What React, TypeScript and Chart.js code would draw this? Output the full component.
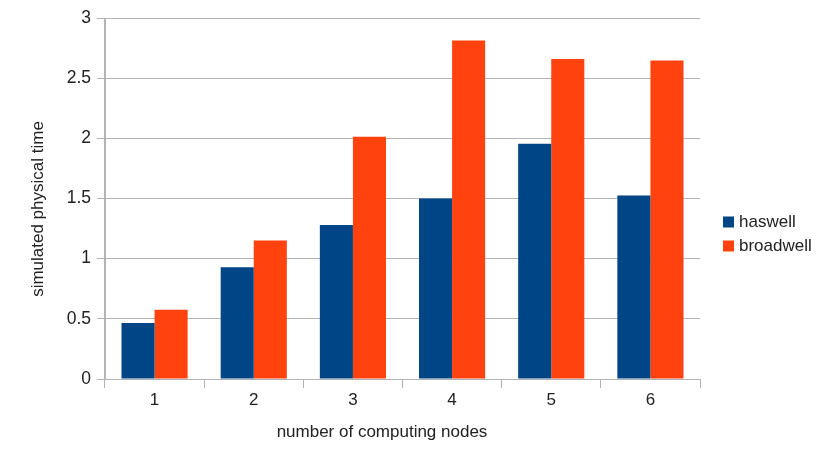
import React, { useEffect, useRef } from "react";
import { Chart, registerables } from "chart.js";

Chart.register(...registerables);

const categories = ["1", "2", "3", "4", "5", "6"];
const haswell = [0.465, 0.928, 1.28, 1.499, 1.956, 1.524];
const broadwell = [0.576, 1.152, 2.014, 2.812, 2.66, 2.646];
const yTicks = [0, 0.5, 1, 1.5, 2, 2.5, 3];
const seriesNames = ["haswell", "broadwell"];
const seriesColors = ["#004586", "#ff420e"];
const xTitle = "number of computing nodes";
const yTitle = "simulated physical time";

const FONT = "'Liberation Sans', Arial, sans-serif";
const GRID = "#b3b3b3";
const TEXT = "#222222";

const overlay = {
  id: "overlay",
  afterDraw(chart: any) {
    const ctx = chart.ctx;
    ctx.save();
    ctx.fillStyle = TEXT;
    ctx.font = `17px ${FONT}`;
    ctx.textAlign = "center";
    ctx.textBaseline = "middle";
    ctx.fillText(xTitle, 382, 432);
    ctx.save();
    ctx.translate(38, 209);
    ctx.rotate(-Math.PI / 2);
    ctx.fillText(yTitle, 0, 0);
    ctx.restore();
    // legend
    ctx.textAlign = "left";
    seriesNames.forEach((name, i) => {
      const cy = 222 + i * 24;
      ctx.fillStyle = seriesColors[i];
      ctx.fillRect(723, cy - 5.5, 11, 11);
      ctx.fillStyle = TEXT;
      ctx.fillText(name, 739, cy);
    });
    ctx.restore();
  },
};

export default function App() {
  const ref = useRef<HTMLCanvasElement>(null);
  useEffect(() => {
    document.body.style.margin = "0";
    const chart = new Chart(ref.current!, {
      type: "bar",
      data: {
        labels: categories,
        datasets: [
          { label: seriesNames[0], data: haswell, backgroundColor: seriesColors[0], categoryPercentage: 0.667, barPercentage: 1 },
          { label: seriesNames[1], data: broadwell, backgroundColor: seriesColors[1], categoryPercentage: 0.667, barPercentage: 1 },
        ],
      },
      options: {
        responsive: false,
        animation: false,
        layout: { padding: { left: 0, right: 130, top: 18, bottom: 0 } },
        plugins: { legend: { display: false }, tooltip: { enabled: false } },
        scales: {
          x: {
            grid: {
              offset: true,
              drawOnChartArea: true,
              color: (c: any) => (c.index === 0 || c.index === categories.length ? GRID : "transparent"),
              tickColor: GRID,
              tickLength: 9,
              lineWidth: 1,
            },
            border: { display: true, color: GRID },
            ticks: { color: TEXT, font: { family: FONT, size: 17 }, padding: 2 },
            afterFit: (s: any) => { s.height = 88; },
          },
          y: {
            min: 0,
            max: 3,
            afterBuildTicks: (s: any) => { s.ticks = yTicks.map((v) => ({ value: v })); },
            grid: { color: GRID, tickColor: GRID, tickLength: 8, lineWidth: 1 },
            border: { display: true, color: GRID },
            ticks: { color: TEXT, font: { family: FONT, size: 17.5 }, padding: 6, callback: (v: any) => String(v) },
            afterFit: (s: any) => { s.width = 105; },
          },
        },
      },
      plugins: [overlay],
    });
    return () => chart.destroy();
  }, []);
  return (
    <div style={{ width: 830, height: 467, background: "#fff" }}>
      <canvas ref={ref} width={830} height={467} />
    </div>
  );
}
